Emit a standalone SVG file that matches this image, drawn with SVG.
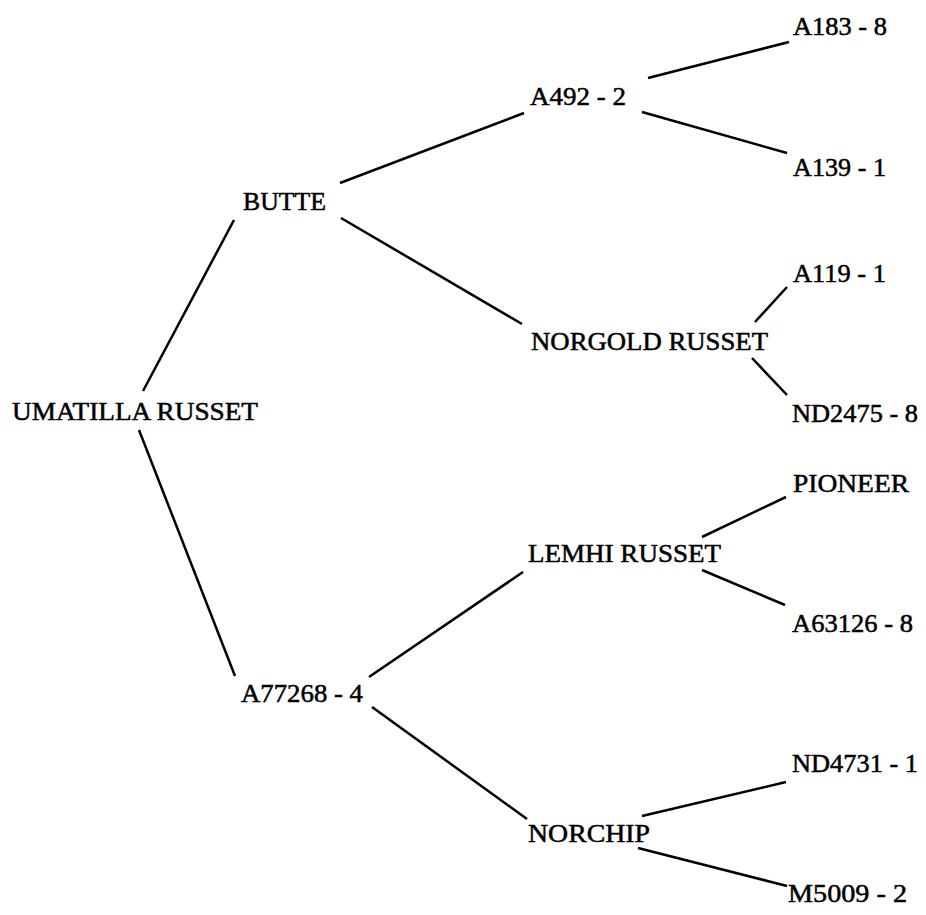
<svg xmlns="http://www.w3.org/2000/svg" width="926" height="915" viewBox="0 0 926 915">
<style>
text{font-family:"Liberation Serif","Times New Roman",serif;font-size:25px;fill:#000;stroke:#000;stroke-width:0.5}
.c line{stroke:#000;stroke-width:2.5;stroke-linecap:butt}
</style>
<rect width="926" height="915" fill="#fff"/>
<g class="c" id="connectors">
<line x1="143" y1="391" x2="234" y2="220"/>
<line x1="139" y1="430" x2="235" y2="676"/>
<line x1="340" y1="183" x2="524" y2="113"/>
<line x1="341" y1="218" x2="522" y2="324"/>
<line x1="648" y1="78" x2="789" y2="42"/>
<line x1="642" y1="112" x2="787" y2="153"/>
<line x1="755" y1="322" x2="787" y2="287"/>
<line x1="752" y1="358" x2="787" y2="395"/>
<line x1="369" y1="677" x2="523" y2="572"/>
<line x1="372" y1="707" x2="527" y2="819"/>
<line x1="702" y1="537" x2="786" y2="497"/>
<line x1="702" y1="570" x2="785" y2="605"/>
<line x1="642" y1="816" x2="786" y2="782"/>
<line x1="638" y1="848" x2="787" y2="886"/>
</g>
<g id="umatilla"><text x="12" y="420" textLength="246" lengthAdjust="spacingAndGlyphs">UMATILLA RUSSET</text></g>
<g id="butte"><text x="243" y="210" textLength="83" lengthAdjust="spacingAndGlyphs">BUTTE</text></g>
<g id="a492"><text x="530" y="105" textLength="96" lengthAdjust="spacingAndGlyphs">A492 - 2</text></g>
<g id="a183"><text x="793" y="35" textLength="94" lengthAdjust="spacingAndGlyphs">A183 - 8</text></g>
<g id="a139"><text x="793" y="176" textLength="93" lengthAdjust="spacingAndGlyphs">A139 - 1</text></g>
<g id="norgold"><text x="531" y="350" textLength="237" lengthAdjust="spacingAndGlyphs">NORGOLD RUSSET</text></g>
<g id="a119"><text x="793" y="282" textLength="93" lengthAdjust="spacingAndGlyphs">A119 - 1</text></g>
<g id="nd2475"><text x="792" y="422" textLength="126" lengthAdjust="spacingAndGlyphs">ND2475 - 8</text></g>
<g id="a77268"><text x="241" y="702" textLength="122" lengthAdjust="spacingAndGlyphs">A77268 - 4</text></g>
<g id="lemhi"><text x="528" y="562" textLength="193" lengthAdjust="spacingAndGlyphs">LEMHI RUSSET</text></g>
<g id="pioneer"><text x="793" y="492" textLength="116" lengthAdjust="spacingAndGlyphs">PIONEER</text></g>
<g id="a63126"><text x="792" y="632" textLength="121" lengthAdjust="spacingAndGlyphs">A63126 - 8</text></g>
<g id="norchip"><text x="528" y="842" textLength="122" lengthAdjust="spacingAndGlyphs">NORCHIP</text></g>
<g id="nd4731"><text x="792" y="772" textLength="126" lengthAdjust="spacingAndGlyphs">ND4731 - 1</text></g>
<g id="m5009"><text x="788" y="902" textLength="119" lengthAdjust="spacingAndGlyphs">M5009 - 2</text></g>
</svg>
